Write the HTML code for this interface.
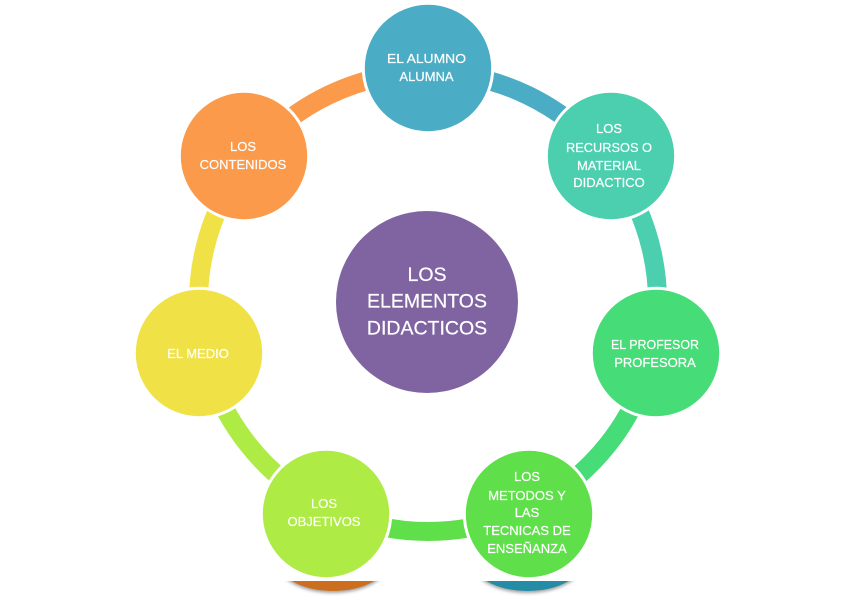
<!DOCTYPE html>
<html><head><meta charset="utf-8"><style>
html,body{margin:0;padding:0;background:#fff;width:861px;height:600px;overflow:hidden}
svg{display:block}
text{font-family:"Liberation Sans",sans-serif;fill:#fff;text-anchor:middle;stroke:#fff;stroke-width:.2}
.s{font-size:13px}
.c{font-size:19.5px}
</style></head><body>
<svg width="861" height="600" viewBox="0 0 861 600" xmlns="http://www.w3.org/2000/svg">
<defs>
<filter id="b" x="-20%" y="-20%" width="140%" height="140%"><feGaussianBlur stdDeviation="1.5"/></filter>
<clipPath id="cl"><rect x="0" y="581" width="861" height="19"/></clipPath>
</defs>
<g clip-path="url(#cl)">
<ellipse cx="333" cy="562" rx="56" ry="31" fill="#555" opacity=".55" filter="url(#b)"/>
<ellipse cx="333" cy="561" rx="55" ry="30" fill="#CB6F1E"/>
<ellipse cx="527.5" cy="562" rx="56" ry="31" fill="#555" opacity=".55" filter="url(#b)"/>
<ellipse cx="527.5" cy="561" rx="55" ry="30" fill="#258CA6"/>
</g>
<g fill="none" stroke-width="19">
<circle cx="428" cy="302" r="229.5" pathLength="360" stroke-dasharray="51.43 308.57" transform="rotate(-141.43 428 302)" stroke="#FA9A4A"/>
<circle cx="428" cy="302" r="229.5" pathLength="360" stroke-dasharray="51.43 308.57" transform="rotate(-90 428 302)" stroke="#4BACC6"/>
<circle cx="428" cy="302" r="229.5" pathLength="360" stroke-dasharray="51.43 308.57" transform="rotate(-38.57 428 302)" stroke="#4BCFAF"/>
<circle cx="428" cy="302" r="229.5" pathLength="360" stroke-dasharray="51.43 308.57" transform="rotate(12.86 428 302)" stroke="#46DC78"/>
<circle cx="428" cy="302" r="229.5" pathLength="360" stroke-dasharray="51.43 308.57" transform="rotate(64.29 428 302)" stroke="#5FE04A"/>
<circle cx="428" cy="302" r="229.5" pathLength="360" stroke-dasharray="51.43 308.57" transform="rotate(115.71 428 302)" stroke="#AEEB45"/>
<circle cx="428" cy="302" r="229.5" pathLength="360" stroke-dasharray="51.43 308.57" transform="rotate(167.14 428 302)" stroke="#F0E246"/>
</g>
<g stroke="#fff" stroke-width="3">
<circle cx="428" cy="68" r="64.7" fill="#4BACC6"/>
<circle cx="611" cy="156" r="64.7" fill="#4BCFAF"/>
<circle cx="656" cy="353" r="64.7" fill="#46DC78"/>
<circle cx="529" cy="514" r="64.7" fill="#5FE04A"/>
<circle cx="326" cy="514" r="64.7" fill="#AEEB45"/>
<circle cx="199" cy="353" r="64.7" fill="#F0E246"/>
<circle cx="244" cy="156" r="64.7" fill="#FA9A4A"/>
</g>
<circle cx="427" cy="302" r="91" fill="#8064A2"/>
<g class="s">
<text x="426.500" y="63" textLength="79" lengthAdjust="spacingAndGlyphs">EL ALUMNO</text>
<text x="426.500" y="81">ALUMNA</text>
<text x="609" y="133">LOS</text>
<text x="609" y="152" textLength="86" lengthAdjust="spacingAndGlyphs">RECURSOS O</text>
<text x="609" y="170">MATERIAL</text>
<text x="609" y="187">DIDACTICO</text>
<text x="655" y="349" textLength="88" lengthAdjust="spacingAndGlyphs">EL PROFESOR</text>
<text x="655" y="367">PROFESORA</text>
<text x="527" y="481">LOS</text>
<text x="527" y="500">METODOS Y</text>
<text x="527" y="517">LAS</text>
<text x="527" y="535">TECNICAS DE</text>
<text x="527" y="553">ENSEÑANZA</text>
<text x="324" y="508">LOS</text>
<text x="324" y="526">OBJETIVOS</text>
<text x="198" y="358">EL MEDIO</text>
<text x="243" y="151">LOS</text>
<text x="243" y="169">CONTENIDOS</text>
</g>
<g class="c">
<text x="427" y="281">LOS</text>
<text x="427" y="307.500">ELEMENTOS</text>
<text x="427" y="334.500">DIDACTICOS</text>
</g>
</svg>
</body></html>
